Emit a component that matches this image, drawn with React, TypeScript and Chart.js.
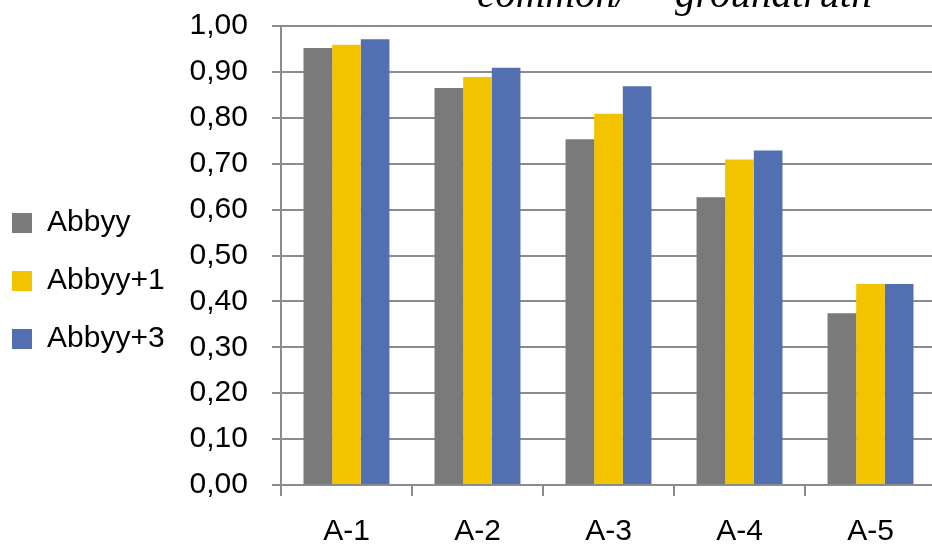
import React, { useEffect, useRef } from "react";
import { Chart, registerables } from "chart.js";

Chart.register(...registerables);

const categories = ["A-1", "A-2", "A-3", "A-4", "A-5"];
const seriesNames = ["Abbyy", "Abbyy+1", "Abbyy+3"];
const abbyy = [0.952, 0.865, 0.753, 0.627, 0.374];
const abbyy1 = [0.959, 0.889, 0.809, 0.709, 0.438];
const abbyy3 = [0.971, 0.909, 0.869, 0.729, 0.438];
const titleParts = ["common/", "groundtruth"];
const yMin = 0;
const yMax = 1;
const yStep = 0.1;

const colors = ["#7a7a7a", "#f3c300", "#516fb1"];
const FONT = "'Liberation Sans', Arial, sans-serif";

const titlePlugin = {
  id: "clippedTitle",
  afterDraw(chart: any) {
    const ctx = chart.ctx;
    ctx.save();
    ctx.fillStyle = "#000";
    ctx.font = "italic 41px 'Liberation Serif', 'Times New Roman', serif";
    ctx.textBaseline = "alphabetic";
    ctx.textAlign = "left";
    ctx.fillText(titleParts[0], 477, 7);
    ctx.fillText(titleParts[1], 675, 7);
    ctx.restore();
  },
};

export default function App() {
  const ref = useRef<HTMLCanvasElement | null>(null);
  useEffect(() => {
    if (!ref.current) return;
    const chart = new Chart(ref.current, {
      type: "bar",
      data: {
        labels: categories,
        datasets: [abbyy, abbyy1, abbyy3].map((d, i) => ({
          label: seriesNames[i],
          data: d,
          backgroundColor: colors[i],
          borderWidth: 0,
          categoryPercentage: 0.656,
          barPercentage: 1,
        })),
      },
      options: {
        animation: false,
        responsive: true,
        maintainAspectRatio: false,
        layout: { padding: { left: -16, right: 14, top: -6, bottom: -22 } },
        plugins: {
          title: { display: false },
          tooltip: { enabled: false },
          legend: {
            position: "left",
            labels: {
              boxWidth: 20,
              boxHeight: 20,
              padding: 28,
              color: "#000",
              font: { family: FONT, size: 30 },
            },
          },
        },
        scales: {
          x: {
            grid: {
              drawOnChartArea: false,
              drawTicks: true,
              tickLength: 11,
              color: "#8c8c8c",
              lineWidth: 2,
            },
            border: { display: true, color: "#8c8c8c", width: 2 },
            ticks: {
              color: "#000",
              padding: 18,
              font: { family: FONT, size: 30 },
            },
          },
          y: {
            min: yMin,
            max: yMax,
            afterFit: (scale: any) => {
              scale.width = scale.width - 9;
              scale.paddingTop = 26;
              scale.paddingBottom = 0;
            },
            grid: {
              color: "#8c8c8c",
              lineWidth: 2,
              drawTicks: true,
              tickLength: 9,
            },
            border: { display: true, color: "#8c8c8c", width: 2 },
            ticks: {
              stepSize: yStep,
              color: "#000",
              padding: 24,
              font: { family: FONT, size: 30 },
              callback: (v: any) => Number(v).toFixed(2).replace(".", ","),
            },
          },
        },
      },
      plugins: [titlePlugin],
    });
    return () => chart.destroy();
  }, []);

  return (
    <div
      style={{
        position: "fixed",
        left: 0,
        top: 0,
        width: 932,
        height: 546,
        overflow: "hidden",
        background: "#fff",
      }}
    >
      <div style={{ position: "absolute", left: 0, top: 0, width: 950, height: 546 }}>
        <canvas ref={ref} />
      </div>
    </div>
  );
}
